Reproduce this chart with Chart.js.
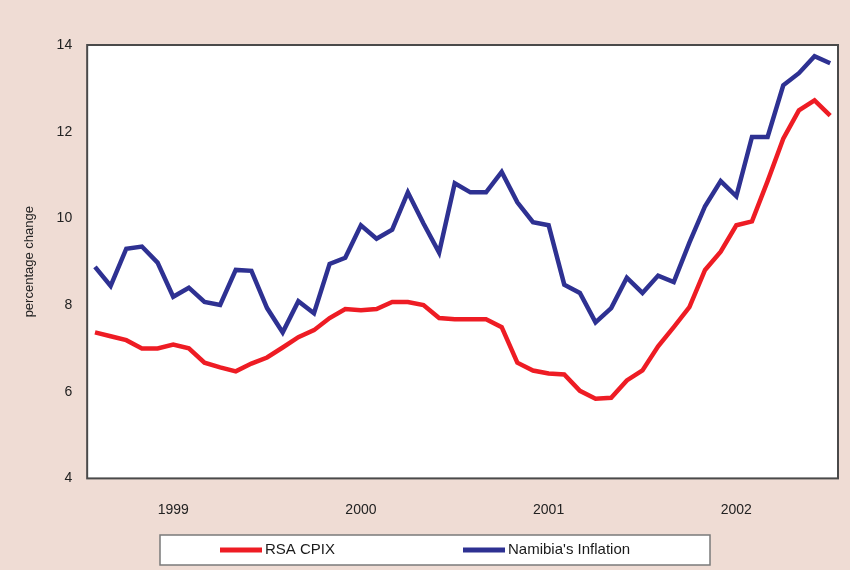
<!DOCTYPE html>
<html>
<head>
<meta charset="utf-8">
<script src="https://cdn.jsdelivr.net/npm/chart.js@4/dist/chart.umd.min.js"></script>
<style>
  body { margin: 0; background: #efdcd4; }
  canvas { display: block; }
</style>
</head>
<body>
<canvas id="chart-inflation" width="850" height="570"></canvas>
<script>
// monthly series, Jan 1999 - Dec 2002
const years = ["1999", "2000", "2001", "2002"];
const months = ["Jan", "Feb", "Mar", "Apr", "May", "Jun", "Jul", "Aug", "Sep", "Oct", "Nov", "Dec"];

const rsaCpix = [
  7.37, 7.28, 7.19, 7.0, 7.0, 7.09, 7.0, 6.67, 6.56, 6.47, 6.65, 6.79,
  7.02, 7.26, 7.42, 7.70, 7.91, 7.88, 7.91, 8.07, 8.07, 8.0, 7.70, 7.67,
  7.67, 7.67, 7.49, 6.67, 6.49, 6.42, 6.40, 6.02, 5.84, 5.86, 6.26, 6.49,
  7.05, 7.49, 7.95, 8.81, 9.23, 9.84, 9.93, 10.86, 11.84, 12.49, 12.72, 12.37
];
const namibiaInflation = [
  8.88, 8.44, 9.30, 9.35, 8.98, 8.19, 8.40, 8.07, 8.0, 8.81, 8.79, 7.93,
  7.37, 8.09, 7.81, 8.95, 9.09, 9.84, 9.53, 9.74, 10.60, 9.88, 9.21, 10.81,
  10.60, 10.60, 11.07, 10.37, 9.91, 9.84, 8.47, 8.28, 7.60, 7.93, 8.63, 8.28,
  8.68, 8.53, 9.44, 10.28, 10.86, 10.51, 11.88, 11.88, 13.07, 13.35, 13.74, 13.58
];

const categories = [];
years.forEach(function (y) {
  months.forEach(function (m) { categories.push(m + " " + y); });
});

const FONT = "'Liberation Sans', Arial, sans-serif";

// pink page, white plot area with dark frame
const framePlugin = {
  id: "frame",
  beforeDraw: function (chart) {
    const ctx = chart.ctx, a = chart.chartArea;
    ctx.save();
    ctx.fillStyle = "#efdcd4";
    ctx.fillRect(0, 0, chart.width, chart.height);
    ctx.fillStyle = "#ffffff";
    ctx.fillRect(a.left, a.top, a.right - a.left, a.bottom - a.top);
    ctx.restore();
  },
  afterDraw: function (chart) {
    const ctx = chart.ctx, a = chart.chartArea;
    ctx.save();
    ctx.strokeStyle = "#4a4a4a";
    ctx.lineWidth = 2;
    ctx.strokeRect(a.left, a.top, a.right - a.left, a.bottom - a.top);
    ctx.restore();
  }
};

// boxed legend under the axis
const boxLegend = {
  id: "boxLegend",
  afterDraw: function (chart) {
    const ctx = chart.ctx;
    const bx = 160, by = 535, bw = 550, bh = 30;
    const starts = [220, 463];
    ctx.save();
    ctx.fillStyle = "#ffffff";
    ctx.fillRect(bx, by, bw, bh);
    ctx.strokeStyle = "#7a7a7a";
    ctx.lineWidth = 1.5;
    ctx.strokeRect(bx, by, bw, bh);
    ctx.font = "15px " + FONT;
    ctx.textBaseline = "middle";
    chart.data.datasets.forEach(function (ds, i) {
      const x = starts[i], y = by + bh / 2;
      ctx.strokeStyle = ds.borderColor;
      ctx.lineWidth = 5;
      ctx.beginPath();
      ctx.moveTo(x, y);
      ctx.lineTo(x + 42, y);
      ctx.stroke();
      ctx.fillStyle = "#1a1a1a";
      ctx.fillText(ds.label, x + 45, y);
    });
    ctx.restore();
  }
};

new Chart(document.getElementById("chart-inflation"), {
  type: "line",
  data: {
    labels: categories,
    datasets: [
      {
        label: "RSA CPIX",
        data: rsaCpix,
        borderColor: "#ee1c24",
        borderWidth: 4.5,
        pointRadius: 0,
        tension: 0
      },
      {
        label: "Namibia's Inflation",
        data: namibiaInflation,
        borderColor: "#2e3192",
        borderWidth: 4.5,
        pointRadius: 0,
        tension: 0
      }
    ]
  },
  options: {
    responsive: false,
    animation: false,
    layout: { padding: { left: 22, right: 12, top: 45, bottom: 44 } },
    plugins: {
      legend: { display: false },
      tooltip: { enabled: false }
    },
    scales: {
      x: {
        type: "category",
        offset: true,
        grid: { display: false, drawTicks: false },
        border: { display: false },
        ticks: {
          autoSkip: false,
          maxRotation: 0,
          padding: 7,
          color: "#222",
          font: { family: FONT, size: 14 },
          // blank first line pushes the year down without widening the side padding
          callback: function (value, index) {
            return index % 12 === 5 ? ["", years[Math.floor(index / 12)]] : "";
          }
        }
      },
      y: {
        min: 4,
        max: 14,
        grid: { display: false, drawTicks: false },
        border: { display: false },
        ticks: {
          stepSize: 2,
          padding: 15,
          color: "#222",
          font: { family: FONT, size: 14 }
        },
        title: {
          display: true,
          text: "percentage change",
          color: "#222",
          font: { family: FONT, size: 13 },
          padding: { top: 0, bottom: 4 }
        }
      }
    }
  },
  plugins: [framePlugin, boxLegend]
});
</script>
</body>
</html>
